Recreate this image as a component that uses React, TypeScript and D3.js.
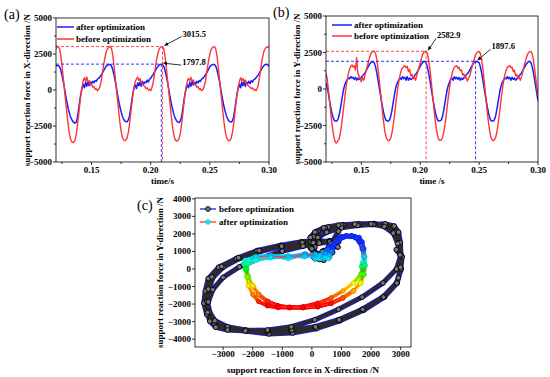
import React from 'react';
import * as d3 from 'd3';

// sampling of the time series (s)
const T_START = 0.12;
const T_STEP = 0.001;

// (a) support reaction force in X-direction, N
const xBefore = [
  2850, 3050,
  3000, 2880, 2450, 1750, 950, 150, -650, -1450, -2200, -2850, -3300, -3550, -3650, -3600, -3500, -3150, -2550, -1850, -1050, -350, 200, 650, 850, 600, 900, 550, 650, 350, 400, 200, 250, 50, 100, -50, 50, 200, 550, 1050, 1600, 2100, 2500, 2780, 2930, 2990,
  3020, 2860, 2400, 1700, 900, 100, -700, -1500, -2250, -2850, -3250, -3450, -3520, -3480, -3350, -3000, -2450, -1750, -1000, -300, 250, 600, 750, 900, 650, 800, 500, 450, 300, 250, 100, 150, 0, 50, -50, 150, 450, 1000, 1550, 2100, 2500, 2800, 2950, 3000,
  3015.5, 2870, 2420, 1720, 920, 120, -680, -1480, -2230, -2850, -3280, -3480, -3550, -3500, -3380, -3050, -2480, -1780, -1020, -320, 230, 620, 800, 650, 880, 600, 700, 400, 350, 200, 250, 50, 100, -50, 0, 200, 500, 1000, 1550, 2080, 2480, 2780, 2930, 2990,
  3010, 2860, 2400, 1700, 900, 100, -700, -1500, -2250, -2850, -3250, -3450, -3530, -3500, -3350, -3000, -2450, -1750, -1000, -300, 250, 600, 850, 650, 800, 550, 700, 450, 350, 250, 200, 100, 150, 0, 50, -50, 100, 400, 900, 1450, 2000, 2450, 2750, 2900, 2980,
  3000, 2920,
];
const xAfter = [
  1720, 1680,
  1700, 1620, 1400, 1050, 650, 200, -300, -750, -1150, -1500, -1800, -2000, -2150, -2250, -2300, -2250, -1950, -1400, -800, -250, 100, 400, 150, 550, 250, 600, 300, 550, 450, 600, 500, 650, 600, 750, 800, 900, 1000, 1150, 1300, 1450, 1600, 1700, 1750, 1780,
  1750, 1650, 1400, 1050, 650, 200, -300, -750, -1150, -1500, -1800, -2000, -2150, -2200, -2200, -2100, -1850, -1350, -750, -200, 150, 350, 100, 500, 300, 550, 250, 600, 400, 550, 500, 700, 550, 750, 800, 950, 1050, 1200, 1350, 1500, 1620, 1720, 1780, 1797.8,
  1760, 1650, 1400, 1050, 650, 200, -300, -750, -1150, -1500, -1800, -2000, -2150, -2230, -2250, -2150, -1900, -1400, -800, -250, 100, 350, 150, 550, 250, 600, 350, 550, 400, 600, 500, 650, 600, 750, 800, 900, 1000, 1150, 1300, 1450, 1600, 1700, 1760, 1780,
  1750, 1650, 1400, 1050, 650, 200, -300, -750, -1150, -1500, -1800, -2000, -2150, -2200, -2230, -2150, -1900, -1400, -800, -250, 100, 400, 150, 550, 300, 600, 250, 550, 450, 600, 450, 650, 550, 700, 750, 850, 950, 1050, 1200, 1350, 1500, 1620, 1720, 1770, 1790,
  1750, 1650,
];

// (b) support reaction force in Y-direction, N
const yBefore = [
  1100, 700, 0, -800, -1600, -2350, -2950, -3400, -3650, -3700, -3550, -3450, -3100, -2600, -1950, -1250, -550, 100, 600, 1050, 1350, 1550, 1650, 1500, 1600, 1300, 2150, 1100, 900, 700, 500, 800, 600, 900, 1250, 1550, 1850, 2150, 2400, 2520, 2570,
  2590, 2450, 2100, 1500, 800, 0, -800, -1600, -2300, -2900, -3300, -3480, -3550, -3500, -3350, -3000, -2500, -1900, -1200, -500, 100, 600, 1000, 1300, 1450, 1550, 1600, 1450, 1550, 1200, 1350, 900, 1000, 700, 850, 600, 900, 1200, 1500, 1800, 2100, 2350, 2500, 2560,
  2582.9, 2450, 2100, 1500, 800, 0, -800, -1600, -2300, -2900, -3300, -3480, -3520, -3480, -3300, -2950, -2450, -1850, -1150, -450, 150, 650, 1050, 1300, 1500, 1550, 1600, 1400, 1500, 1250, 1300, 950, 1050, 750, 800, 550, 700, 900, 1200, 1500, 1800, 2100, 2350, 2480, 2550,
  2570, 2450, 2100, 1500, 800, 0, -800, -1600, -2300, -2900, -3300, -3480, -3530, -3480, -3320, -2980, -2480, -1880, -1180, -480, 120, 620, 1020, 1300, 1480, 1550, 1600, 1450, 1500, 1200, 1300, 900, 1000, 700, 800, 600, 850, 1150, 1500, 1800, 2100, 2350, 2500, 2560,
  2570, 2420, 2050, 1450, 800, 100, -500,
];
const yAfter = [
  400, 150, -300, -800, -1250, -1650, -1950, -2150, -2200, -2200, -2100, -1850, -1450, -950, -450, 0, 300, 500, 650, 750, 700, 850, 750, 800, 650, 800, 600, 750, 650, 700, 800, 900, 1000, 1100, 1250, 1400, 1550, 1700, 1800, 1880, 1850,
  1800, 1550, 1150, 700, 200, -300, -800, -1250, -1650, -1950, -2150, -2200, -2200, -2100, -1850, -1450, -950, -450, 0, 300, 500, 650, 750, 650, 850, 700, 800, 600, 850, 600, 750, 650, 700, 800, 900, 1000, 1100, 1250, 1400, 1550, 1700, 1800, 1880, 1900,
  1800, 1550, 1150, 700, 200, -300, -800, -1250, -1650, -1950, -2150, -2200, -2180, -2100, -1850, -1450, -950, -450, 0, 300, 500, 700, 750, 600, 850, 700, 800, 650, 800, 600, 750, 650, 750, 850, 950, 1050, 1150, 1300, 1450, 1600, 1750, 1850, 1897.6, 1880, 1850,
  1800, 1550, 1150, 700, 200, -300, -800, -1250, -1650, -1950, -2150, -2200, -2200, -2100, -1850, -1450, -950, -450, 0, 300, 500, 650, 750, 700, 850, 700, 800, 600, 800, 650, 750, 600, 700, 800, 900, 1000, 1100, 1250, 1400, 1550, 1700, 1800, 1880, 1900,
  1800, 1550, 1150, 700, 200, -300, -800,
];

// axis ticks
const timeTicks = [0.15, 0.2, 0.25, 0.3];
const timeMinor = [0.125, 0.175, 0.225, 0.275];
const forceTicks = [-5000, -2500, 0, 2500, 5000];
const forceMinor = [-3750, -1250, 1250, 3750];
const orbitXTicks = [-3000, -2000, -1000, 0, 1000, 2000, 3000];
const orbitYTicks = [-4000, -3000, -2000, -1000, 0, 1000, 2000, 3000, 4000];

// marked peaks
const peaksA = [
  { series: 'before', t: 0.21, value: 3015.5 },
  { series: 'after', t: 0.209, value: 1797.8 },
];
const peaksB = [
  { series: 'before', t: 0.205, value: 2582.9 },
  { series: 'after', t: 0.247, value: 1897.6 },
];

const FONT = "'Liberation Serif', 'Times New Roman', serif";
const BLUE = '#1c1cff';
const RED = '#ff3535';

type Box = { left: number; right: number; top: number; bottom: number };

const fmtForce = (v: number) => (v < 0 ? '\u2212' + Math.abs(v) : String(v));

function TimePanel(props: {
  id: string;
  box: Box;
  before: number[];
  after: number[];
  peaks: { series: string; t: number; value: number }[];
  labelOffsets: [number, number][];
  tag: string;
  tagPos: [number, number];
  xTitle: string;
  yTitle: string;
  yTitleX: number;
  legend: { x: number; y: number; gap: number; len: number };
}) {
  const { box, before, after, peaks } = props;
  const x = d3.scaleLinear().domain([0.12, 0.3]).range([box.left, box.right]);
  const y = d3.scaleLinear().domain([-5000, 5000]).range([box.bottom, box.top]);
  const line = d3
    .line<number>()
    .x((_, i) => x(T_START + i * T_STEP))
    .y(d => y(d));
  const midY = (box.top + box.bottom) / 2;
  const lg = props.legend;

  return (
    <g>
      <defs>
        <clipPath id={`clip-${props.id}`}>
          <rect x={box.left} y={box.top} width={box.right - box.left} height={box.bottom - box.top} />
        </clipPath>
      </defs>
      <g clipPath={`url(#clip-${props.id})`}>
        <path d={line(after) || ''} fill="none" stroke={BLUE} strokeWidth={1.5} strokeLinejoin="round" />
        <path d={line(before) || ''} fill="none" stroke={RED} strokeWidth={1.4} strokeLinejoin="round" />
        {peaks.map((p, i) => {
          const c = p.series === 'before' ? RED : BLUE;
          return (
            <g key={i}>
              <line x1={box.left} x2={x(p.t)} y1={y(p.value)} y2={y(p.value)} stroke={c} strokeWidth={0.9} strokeDasharray="3 2" />
              <line x1={x(p.t)} x2={x(p.t)} y1={y(p.value)} y2={box.bottom} stroke={c} strokeWidth={0.9} strokeDasharray="3 2" />
            </g>
          );
        })}
      </g>
      {peaks.map((p, i) => {
        const px = x(p.t);
        const py = y(p.value);
        const [dx, dy] = props.labelOffsets[i];
        return (
          <g key={i}>
            <line x1={px + dx - 1} y1={py + dy + 2} x2={px + 2} y2={py - 1} stroke="#000" strokeWidth={0.8} markerEnd="url(#arrowhead)" />
            <text x={px + dx} y={py + dy + 2} fontSize={8.5} fontWeight="bold">{String(p.value)}</text>
          </g>
        );
      })}
      <rect x={box.left} y={box.top} width={box.right - box.left} height={box.bottom - box.top} fill="none" stroke="#000" strokeWidth={0.8} />
      {timeTicks.map(t => (
        <g key={t}>
          <line x1={x(t)} x2={x(t)} y1={box.bottom} y2={box.bottom + 3} stroke="#000" strokeWidth={0.8} />
          <text x={x(t)} y={box.bottom + 11} textAnchor="middle" fontSize={9} fontWeight="bold">{d3.format('.2f')(t)}</text>
        </g>
      ))}
      {timeMinor.map(t => (
        <line key={t} x1={x(t)} x2={x(t)} y1={box.bottom} y2={box.bottom + 2} stroke="#000" strokeWidth={0.8} />
      ))}
      {forceTicks.map(v => (
        <g key={v}>
          <line x1={box.left - 3} x2={box.left} y1={y(v)} y2={y(v)} stroke="#000" strokeWidth={0.8} />
          <text x={box.left - 4} y={y(v) + 3} textAnchor="end" fontSize={9} fontWeight="bold">{fmtForce(v)}</text>
        </g>
      ))}
      {forceMinor.map(v => (
        <line key={v} x1={box.left - 2} x2={box.left} y1={y(v)} y2={y(v)} stroke="#000" strokeWidth={0.8} />
      ))}
      <text x={(box.left + box.right) / 2} y={box.bottom + 22} textAnchor="middle" fontSize={9} fontWeight="bold">{props.xTitle}</text>
      <text transform={`translate(${props.yTitleX},${midY}) rotate(-90)`} textAnchor="middle" fontSize={9} fontWeight="bold">{props.yTitle}</text>
      <text x={props.tagPos[0]} y={props.tagPos[1]} fontSize={14}>{props.tag}</text>
      <g>
        <line x1={lg.x} x2={lg.x + lg.len} y1={lg.y} y2={lg.y} stroke={BLUE} strokeWidth={1.5} />
        <text x={lg.x + lg.len + 2} y={lg.y + 3} fontSize={9} fontWeight="bold">after optimization</text>
        <line x1={lg.x} x2={lg.x + lg.len} y1={lg.y + lg.gap} y2={lg.y + lg.gap} stroke={RED} strokeWidth={1.5} />
        <text x={lg.x + lg.len + 2} y={lg.y + lg.gap + 3} fontSize={9} fontWeight="bold">before optimization</text>
      </g>
    </g>
  );
}

function OrbitPanel({ box }: { box: Box }) {
  const x = d3.scaleLinear().domain([-3950, 3350]).range([box.left, box.right]);
  const y = d3.scaleLinear().domain([-4450, 4050]).range([box.bottom, box.top]);
  const before = xBefore.map((v, i) => [v, yBefore[i]] as [number, number]);
  const after = xAfter.map((v, i) => [v, yAfter[i]] as [number, number]);
  const line = d3
    .line<[number, number]>()
    .x(d => x(d[0]))
    .y(d => y(d[1]));
  const rainbow = d3
    .scaleLinear<string>()
    .domain([-2000, -1450, -850, -100, 550, 1250])
    .range(['#ff0000', '#ff8000', '#ffff00', '#00ff00', '#00ffff', '#1030ff'])
    .clamp(true);
  const midY = (box.top + box.bottom) / 2;
  const lx = box.left + 5;
  const ly = box.top + 11;

  return (
    <g>
      <defs>
        <clipPath id="clip-c">
          <rect x={box.left} y={box.top} width={box.right - box.left} height={box.bottom - box.top} />
        </clipPath>
      </defs>
      <g clipPath="url(#clip-c)">
        {/* blue connecting line, then the trail of the dense "before" markers */}
        <path d={line(before) || ''} fill="none" stroke={BLUE} strokeWidth={5.2} strokeLinejoin="round" />
        <path d={line(before) || ''} fill="none" stroke="#2b2b2b" strokeWidth={3.8} strokeLinejoin="round" strokeLinecap="round" />
        {before.map((d, i) => (
          <circle key={i} cx={x(d[0])} cy={y(d[1])} r={2.4} fill="#777" stroke="#000" strokeWidth={0.9} />
        ))}
        {after.slice(1).map((d, i) => {
          const p = after[i];
          return (
            <line key={i} x1={x(p[0])} y1={y(p[1])} x2={x(d[0])} y2={y(d[1])} stroke={rainbow((p[1] + d[1]) / 2)} strokeWidth={3.8} strokeLinecap="round" />
          );
        })}
        <path d={line(after) || ''} fill="none" stroke={RED} strokeWidth={0.6} />
        {after.map((d, i) => {
          const c = rainbow(d[1]);
          return <circle key={i} cx={x(d[0])} cy={y(d[1])} r={2.3} fill={c} stroke={d3.color(c)!.darker(0.6).toString()} strokeWidth={0.6} />;
        })}
      </g>
      <rect x={box.left} y={box.top} width={box.right - box.left} height={box.bottom - box.top} fill="none" stroke="#000" strokeWidth={0.8} />
      {orbitXTicks.map(v => (
        <g key={v}>
          <line x1={x(v)} x2={x(v)} y1={box.bottom} y2={box.bottom + 3} stroke="#000" strokeWidth={0.8} />
          <text x={x(v)} y={box.bottom + 10} textAnchor="middle" fontSize={9} fontWeight="bold">{fmtForce(v)}</text>
        </g>
      ))}
      {orbitYTicks.map(v => (
        <g key={v}>
          <line x1={box.left - 3} x2={box.left} y1={y(v)} y2={y(v)} stroke="#000" strokeWidth={0.8} />
          <text x={box.left - 4} y={y(v) + 3} textAnchor="end" fontSize={9} fontWeight="bold">{fmtForce(v)}</text>
        </g>
      ))}
      <text x={(box.left + box.right) / 2} y={box.bottom + 26} textAnchor="middle" fontSize={9} fontWeight="bold">support reaction force in X-direction /N</text>
      <text transform={`translate(${box.left - 32},${midY}) rotate(-90)`} textAnchor="middle" fontSize={9} fontWeight="bold">support reaction force in Y-direction /N</text>
      <text x={box.left - 58} y={box.top + 12} fontSize={14}>(c)</text>
      <line x1={lx} x2={lx + 16} y1={ly} y2={ly} stroke={BLUE} strokeWidth={1.3} />
      <circle cx={lx + 8} cy={ly} r={2.4} fill="#777" stroke="#000" strokeWidth={0.9} />
      <text x={lx + 19} y={ly + 3} fontSize={9} fontWeight="bold">before optimization</text>
      <line x1={lx} x2={lx + 16} y1={ly + 13} y2={ly + 13} stroke={RED} strokeWidth={1.3} />
      <circle cx={lx + 8} cy={ly + 13} r={2.3} fill="#00ffff" stroke="#00a0a0" strokeWidth={0.6} />
      <text x={lx + 19} y={ly + 16} fontSize={9} fontWeight="bold">after optimization</text>
    </g>
  );
}

export default function App() {
  const boxA: Box = { left: 56, right: 269, top: 18, bottom: 162 };
  const boxB: Box = { left: 326, right: 538, top: 16, bottom: 162 };
  const boxC: Box = { left: 195, right: 411, top: 198, bottom: 347 };
  return (
    <div style={{ position: 'absolute', left: 0, top: 0 }}>
      <svg width={550} height={377} fontFamily={FONT} style={{ display: 'block', background: '#fff' }}>
        <defs>
          <marker id="arrowhead" viewBox="0 0 8 8" refX={8} refY={4} markerWidth={5} markerHeight={5} orient="auto">
            <path d="M0,0 L8,4 L0,8 z" fill="#000" />
          </marker>
        </defs>
        <TimePanel
          id="a"
          box={boxA}
          before={xBefore}
          after={xAfter}
          peaks={peaksA}
          labelOffsets={[[20, -12], [21, -1]]}
          tag="(a)"
          tagPos={[4, 19]}
          xTitle="time/s"
          yTitle="support reaction force in X-direction /N"
          yTitleX={30}
          legend={{ x: 57, y: 27, gap: 12, len: 17 }}
        />
        <TimePanel
          id="b"
          box={boxB}
          before={yBefore}
          after={yAfter}
          peaks={peaksB}
          labelOffsets={[[11, -15], [16, -14]]}
          tag="(b)"
          tagPos={[273, 17]}
          xTitle="time /s"
          yTitle="support reaction force in Y-direction /N"
          yTitleX={300}
          legend={{ x: 332, y: 25, gap: 11, len: 20 }}
        />
        <OrbitPanel box={boxC} />
      </svg>
    </div>
  );
}
